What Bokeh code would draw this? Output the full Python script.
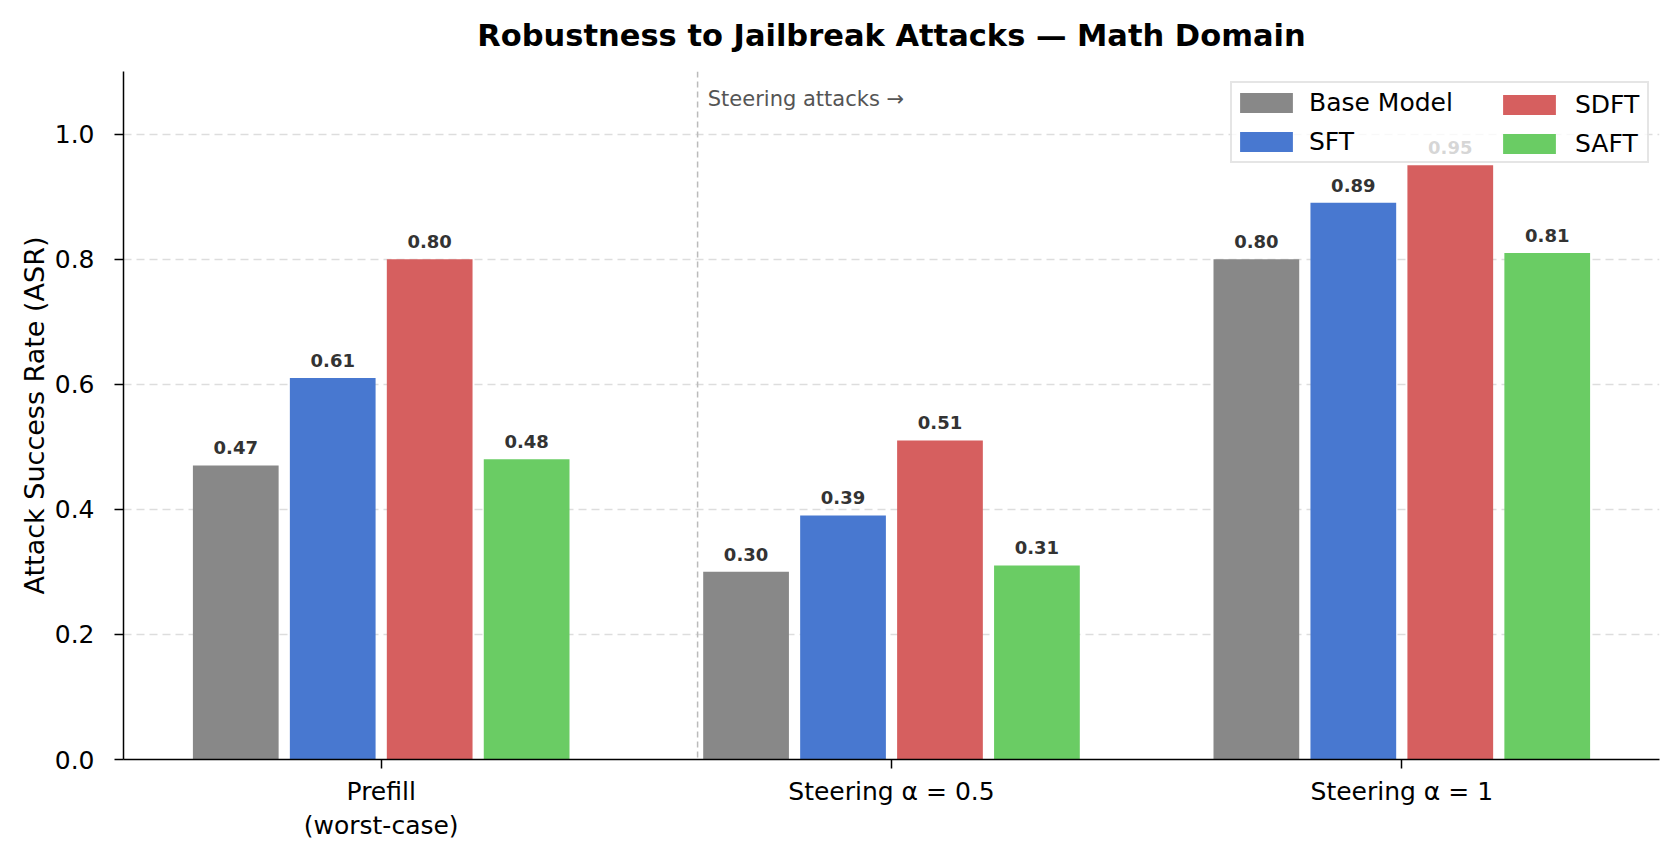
from bokeh.plotting import figure
from bokeh.models import (ColumnDataSource, Range1d, Span, Label, Legend, LegendItem,
                          NumeralTickFormatter, FixedTicker)
from bokeh.core.properties import value
from bokeh.embed import file_html
from bokeh.resources import INLINE

# ---- data ----
categories = ["Prefill\n(worst-case)", "Steering α = 0.5", "Steering α = 1"]
models = ["Base Model", "SFT", "SDFT", "SAFT"]
base_model = [0.47, 0.30, 0.80]
sft = [0.61, 0.39, 0.89]
sdft = [0.80, 0.51, 0.95]
saft = [0.48, 0.31, 0.81]
colors = ["#888888", "#4878d0", "#d65f5f", "#6acc64"]
y_ticks = [0.0, 0.2, 0.4, 0.6, 0.8, 1.0]
divider_x = 0.62
annotation_text = "Steering attacks →"
title_text = "Robustness to Jailbreak Attacks — Math Domain"

series = [base_model, sft, sdft, saft]
FONT = "DejaVu Sans"
pitch = 0.19
bar_w = 0.168

p = figure(width=1680, height=859, output_backend="svg", toolbar_location=None,
           x_range=Range1d(-0.505, 2.505), y_range=Range1d(0, 1.1),
           min_border_left=123, min_border_right=21, min_border_top=71, min_border_bottom=100)

p.title.text = title_text
p.title.align = "center"
p.title.vertical_align = "top"
p.title.text_font = FONT
p.title.text_font_size = "30.5px"
p.title.text_font_style = "bold"
p.title.text_color = "black"
p.title.standoff = 34

renderers = []
for i, (name, vals, col) in enumerate(zip(models, series, colors)):
    xs = [k + (i - 1.5) * pitch for k in range(len(categories))]
    src = ColumnDataSource(dict(x=xs, top=vals,
                                ly=[v + 0.018 for v in vals],
                                lab=[f"{v:.2f}" for v in vals]))
    r = p.vbar(x="x", top="top", bottom=0, width=bar_w, source=src,
               fill_color=col, line_color=None)
    renderers.append(r)
    p.text(x="x", y="ly", text="lab", source=src, text_align="center",
           text_baseline="bottom", text_font=value(FONT), text_font_size="18px",
           text_font_style="bold", text_color="#333333")

# divider
p.add_layout(Span(location=divider_x, dimension="height", line_color="#bbbbbb",
                  line_dash="6 4", line_width=1.5))
p.add_layout(Label(x=divider_x + 0.02, y=1.056, text=annotation_text,
                   text_font=FONT, text_font_size="21px", text_color="#555555",
                   text_baseline="middle", text_align="left"))

# axes
p.xaxis.ticker = FixedTicker(ticks=list(range(len(categories))))
p.xaxis.major_label_overrides = {i: c for i, c in enumerate(categories)}
p.yaxis.ticker = FixedTicker(ticks=y_ticks)
p.yaxis.formatter = NumeralTickFormatter(format="0.0")
p.yaxis.axis_label = "Attack Success Rate (ASR)"
p.yaxis.axis_label_text_font = FONT
p.yaxis.axis_label_text_font_size = "27px"
p.yaxis.axis_label_text_font_style = "normal"
p.yaxis.axis_label_text_color = "black"
p.yaxis.axis_label_standoff = 2
for ax in (p.xaxis, p.yaxis):
    ax.axis_line_color = "black"
    ax.axis_line_width = 1.5
    ax.major_tick_line_color = "black"
    ax.major_tick_line_width = 1.5
    ax.major_tick_out = 9
    ax.major_tick_in = 0
    ax.minor_tick_line_color = None
    ax.major_label_text_font = FONT
    ax.major_label_text_font_size = "25px"
    ax.major_label_text_color = "black"
    ax.major_label_standoff = 8
p.yaxis.major_label_standoff = 20

p.xgrid.visible = False
p.ygrid.ticker = FixedTicker(ticks=y_ticks[1:])
p.ygrid.grid_line_color = "#dddddd"
p.ygrid.grid_line_dash = "8 5"
p.ygrid.grid_line_width = 1.5
p.outline_line_color = None

# legend: box with left column, plus right column overlay (screen px from frame bottom-left)
common = dict(orientation="vertical", glyph_width=66, glyph_height=25,
              label_height=37, spacing=2, padding=1,
              label_text_font=FONT, label_text_font_size="25px", label_text_color="black")
leg_a = Legend(items=[LegendItem(label=models[0], renderers=[renderers[0]]),
                      LegendItem(label=models[1], renderers=[renderers[1]])],
               location=(1107, 596), label_standoff=10,
               label_width=337, border_line_color="#cccccc", border_line_width=2,
               background_fill_color="white", background_fill_alpha=0.8, **common)
leg_b = Legend(items=[LegendItem(label=models[2], renderers=[renderers[2]]),
                      LegendItem(label=models[3], renderers=[renderers[3]])],
               location=(1372, 596), label_standoff=13,
               border_line_alpha=0, background_fill_alpha=0, **common)
p.add_layout(leg_a, "center")
p.add_layout(leg_b, "center")

open("out.html", "w").write(file_html(p, INLINE))
